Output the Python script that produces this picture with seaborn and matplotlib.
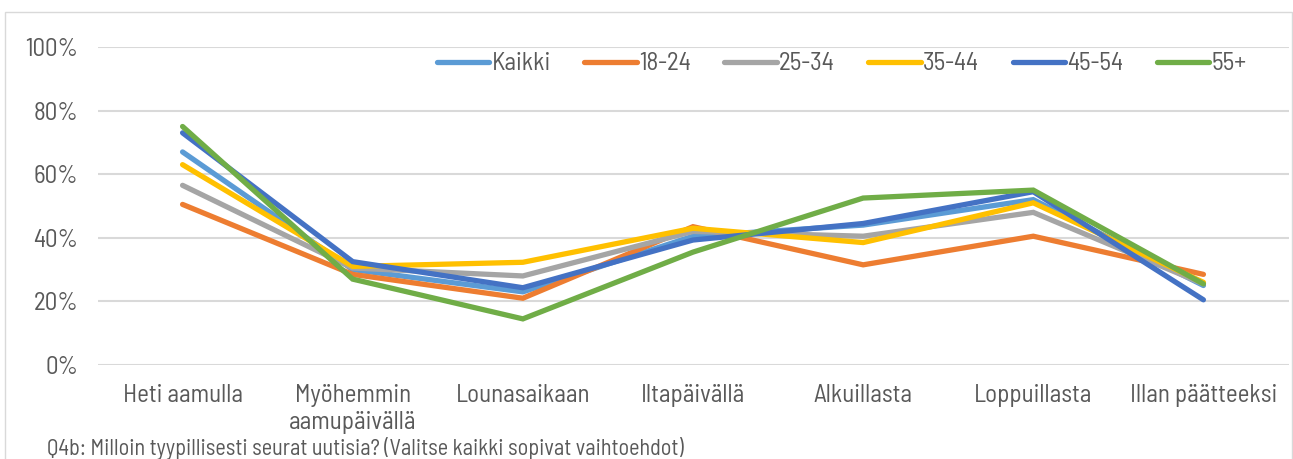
import numpy as np
import pandas as pd
import matplotlib
matplotlib.use("Agg")
import matplotlib.pyplot as plt
import seaborn as sns
from matplotlib.patches import Rectangle

# Data (share of respondents)
categories = ["Heti aamulla", "Myöhemmin\naamupäivällä", "Lounasaikaan", "Iltapäivällä",
              "Alkuillasta", "Loppuillasta", "Illan päätteeksi"]
kaikki = [67, 30, 23, 40.5, 44, 52, 25]
age_18_24 = [50.5, 28.5, 21, 43.5, 31.5, 40.5, 28.5]
age_25_34 = [56.5, 30.5, 28, 42, 40.5, 48, 25.5]
age_35_44 = [63, 31, 32.3, 43, 38.5, 51, 26]
age_45_54 = [73, 32.5, 24.3, 39.3, 44.5, 54.5, 20.5]
age_55 = [75, 27, 14.5, 35.5, 52.5, 55, 25.5]

series_names = ["Kaikki", "18-24", "25-34", "35-44", "45-54", "55+"]
series_vals = [kaikki, age_18_24, age_25_34, age_35_44, age_45_54, age_55]
colors = ["#5B9BD5", "#ED7D31", "#A5A5A5", "#FFC000", "#4472C4", "#70AD47"]

rows = []
for name, vals in zip(series_names, series_vals):
    for cat, v in zip(categories, vals):
        rows.append({"aika": cat, "osuus": v / 100, "ryhmä": name})
df = pd.DataFrame(rows)

sns.set_style("white")
plt.rcParams['font.family'] = ['Barlow Semi Condensed', 'Encode Sans Semi Condensed',
                               'Liberation Sans Narrow', 'DejaVu Sans']
text_col = "#595959"

fig = plt.figure(figsize=(12.93, 4.59), dpi=100)
ax = fig.add_axes([97.5 / 1293, 1 - 365 / 459, 1191 / 1293, 318 / 459])

sns.lineplot(data=df, x="aika", y="osuus", hue="ryhmä", hue_order=series_names,
             palette=dict(zip(series_names, colors)), sort=False, linewidth=3.8,
             solid_capstyle="round", solid_joinstyle="miter", ax=ax)

ax.set_xlim(-0.5, len(categories) - 0.5)
ax.set_ylim(0, 1)
ax.set_yticks(np.arange(0, 1.01, 0.2))
ax.set_yticklabels([f"{int(round(t * 100))}%" for t in np.arange(0, 1.01, 0.2)])
ax.yaxis.grid(True, color="#D9D9D9", linewidth=1.5)
ax.set_axisbelow(True)
for s in ax.spines.values():
    s.set_visible(False)
ax.tick_params(axis="both", length=0, labelsize=18, colors=text_col)
ax.tick_params(axis="x", pad=14)
ax.tick_params(axis="y", pad=14)
ax.set_xlabel("")
ax.set_ylabel("")

leg = ax.legend(loc="center left", bbox_to_anchor=(0.285, 0.947), ncol=6, frameon=False,
                fontsize=18, handlelength=2.1, handletextpad=0.08, columnspacing=1.35,
                borderaxespad=0, borderpad=0)
for t in leg.get_texts():
    t.set_color(text_col)
for h in leg.legend_handles:
    h.set_linewidth(3.8)
    h.set_solid_capstyle("round")

fig.text(47 / 1293, 1 - 449 / 459, "Q4b: Milloin tyypillisesti seurat uutisia? (Valitse kaikki sopivat vaihtoehdot)",
         fontsize=16, color=text_col, va="center", ha="left")

fig.patches.append(Rectangle((5 / 1293, -0.05), 1287 / 1293, 1.05 - 12 / 459,
                             transform=fig.transFigure, fill=False, edgecolor="#D9D9D9", linewidth=1))

fig.savefig("out.png", dpi=100)
